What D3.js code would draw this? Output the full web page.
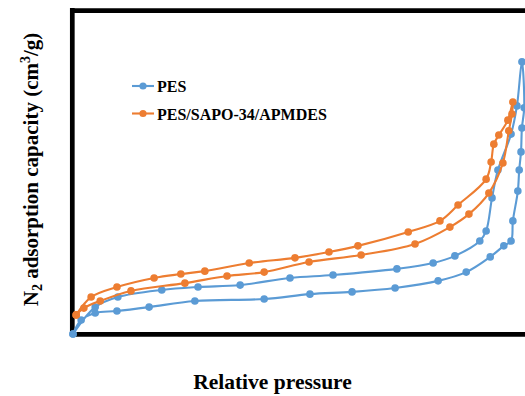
<!DOCTYPE html>
<html>
<head>
<meta charset="utf-8">
<script src="https://cdn.jsdelivr.net/npm/d3@7"></script>
<style>
  html, body { margin: 0; padding: 0; background: #fff; overflow: hidden; }
  svg { display: block; }
</style>
</head>
<body>
<svg id="chart" width="525" height="396"></svg>
<script>
// N2 adsorption / desorption isotherms (relative pressure P/P0, capacity)
const seriesNames = ["PES", "PES/SAPO-34/APMDES"];
const seriesColors = ["#5B9BD5", "#ED7D31"];

// PES: adsorption branch followed by desorption branch
const pesPressure = [0, 0.018, 0.049, 0.097, 0.168, 0.269, 0.422, 0.523, 0.616, 0.711, 0.806, 0.868, 0.921, 0.951, 0.967, 0.971, 0.982, 0.985, 0.989, 0.991, 0.996, 0.991,
                     0.980, 0.967, 0.938, 0.925, 0.912, 0.898, 0.843, 0.795, 0.715, 0.574, 0.479, 0.369, 0.276, 0.196, 0.099, 0.049, 0];
const pesCapacity = [0, 4.3, 6.5, 7.1, 8.3, 10.2, 10.8, 12.3, 13.0, 14.2, 16.4, 19.1, 23.8, 27.2, 28.7, 34.9, 44.1, 50.6, 56.2, 63.6, 69.8, 84.0,
                     70.4, 61.7, 50.6, 42.0, 31.8, 28.7, 24.1, 21.9, 20.1, 18.2, 17.3, 15.1, 14.5, 13.6, 11.4, 8.3, 0];

// PES/SAPO-34/APMDES: adsorption branch followed by desorption branch
const mmmPressure = [0.007, 0.024, 0.060, 0.128, 0.247, 0.340, 0.422, 0.521, 0.636, 0.755, 0.832, 0.874, 0.918, 0.949, 0.962, 0.969, 0.971,
                     0.960, 0.940, 0.929, 0.923, 0.912, 0.850, 0.810, 0.740, 0.629, 0.565, 0.490, 0.389, 0.291, 0.238, 0.179, 0.097, 0.040, 0.007];
const mmmCapacity = [5.9, 8.0, 10.2, 13.3, 15.7, 17.9, 19.1, 22.2, 24.4, 27.8, 33.0, 37.0, 43.5, 52.8, 62.7, 67.9, 71.6,
                     66.0, 61.4, 58.6, 53.1, 47.8, 39.8, 34.9, 31.5, 27.2, 25.3, 23.5, 21.9, 19.4, 18.5, 17.3, 14.5, 11.4, 5.9];

const xTitle = "Relative pressure";

const svg = d3.select("#chart");

const x = d3.scaleLinear().domain([0, 1]).range([73, 526]);
const y = d3.scaleLinear().domain([0, 100]).range([334, 10]);

const series = [
  { name: seriesNames[0], color: seriesColors[0], pts: pesPressure.map((p, i) => [p, pesCapacity[i]]) },
  { name: seriesNames[1], color: seriesColors[1], pts: mmmPressure.map((p, i) => [p, mmmCapacity[i]]) }
];

// Frame: left, top and bottom borders (drawn under the data)
const frame = svg.append("g").attr("stroke", "#000").attr("stroke-width", 4.7);
frame.append("line").attr("x1", 72.3).attr("x2", 72.3).attr("y1", 8).attr("y2", 336.7);
frame.append("line").attr("x1", 70).attr("x2", 530).attr("y1", 10.6).attr("y2", 10.6);
frame.append("line").attr("x1", 70).attr("x2", 530).attr("y1", 334.3).attr("y2", 334.3);

const line = d3.line()
  .x(d => x(d[0]))
  .y(d => y(d[1]))
  .curve(d3.curveCatmullRom.alpha(0.5));

const plot = svg.append("g");
series.forEach(s => {
  const g = plot.append("g");
  g.append("path")
    .attr("d", line(s.pts))
    .attr("fill", "none")
    .attr("stroke", s.color)
    .attr("stroke-width", 2.1);
  g.selectAll("circle")
    .data(s.pts)
    .join("circle")
    .attr("cx", d => x(d[0]))
    .attr("cy", d => y(d[1]))
    .attr("r", 3.8)
    .attr("fill", s.color);
});

// Legend
const legend = svg.append("g");
series.forEach((s, i) => {
  const ly = 86 + i * 27.5;
  const row = legend.append("g");
  row.append("line").attr("x1", 132).attr("x2", 154).attr("y1", ly).attr("y2", ly)
    .attr("stroke", s.color).attr("stroke-width", 2.1);
  row.append("circle").attr("cx", 143).attr("cy", ly).attr("r", 3.6).attr("fill", s.color);
  row.append("text").attr("x", 157).attr("y", ly + 6)
    .attr("font-family", "'Liberation Serif', 'Times New Roman', serif")
    .attr("font-weight", "bold").attr("font-size", 16).attr("fill", "#000")
    .text(s.name);
});

// Axis titles
svg.append("text")
  .attr("x", 272.5).attr("y", 389)
  .attr("text-anchor", "middle")
  .attr("font-family", "'Liberation Serif', 'Times New Roman', serif")
  .attr("font-weight", "bold").attr("font-size", 21.5).attr("fill", "#000")
  .text(xTitle);

const yt = svg.append("text")
  .attr("transform", "translate(37.5,169.5) rotate(-90)")
  .attr("text-anchor", "middle")
  .attr("font-family", "'Liberation Serif', 'Times New Roman', serif")
  .attr("font-weight", "bold").attr("font-size", 21).attr("fill", "#000");
yt.append("tspan").text("N");
yt.append("tspan").attr("font-size", 14).attr("dy", 4).text("2");
yt.append("tspan").attr("dy", -4).text(" adsorption capacity (cm");
yt.append("tspan").attr("font-size", 14).attr("dy", -8).text("3");
yt.append("tspan").attr("dy", 8).text("/g)");
</script>
</body>
</html>
